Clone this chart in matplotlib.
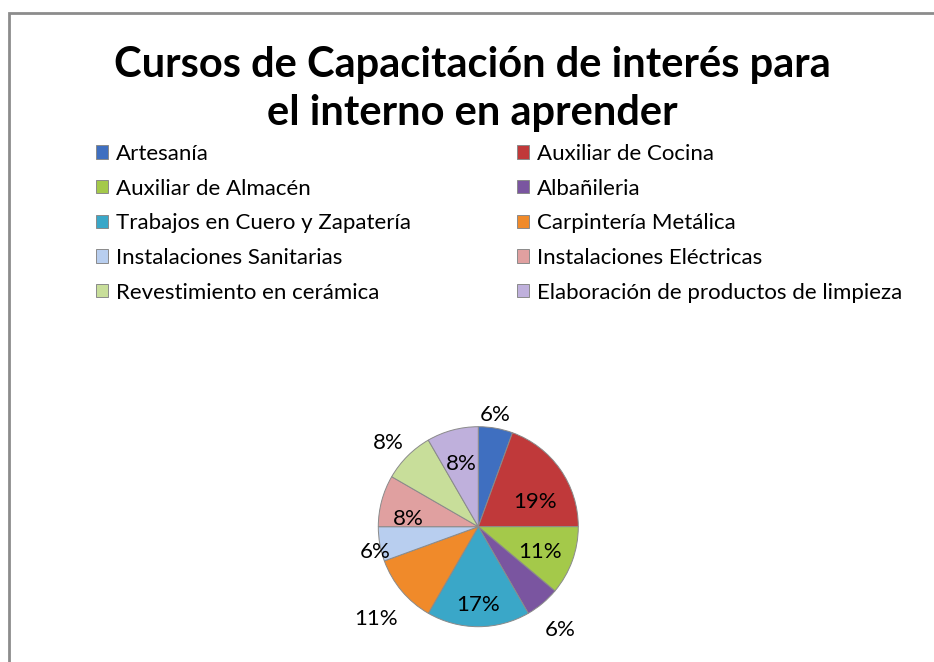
import matplotlib
matplotlib.use("Agg")
import matplotlib.pyplot as plt
from matplotlib.patches import Rectangle

# ---- data ----
categories = ["Artesanía", "Auxiliar de Cocina", "Auxiliar de Almacén", "Albañileria",
              "Trabajos en Cuero y Zapatería", "Carpintería Metálica",
              "Instalaciones Sanitarias", "Instalaciones Eléctricas",
              "Revestimiento en cerámica", "Elaboración de productos de limpieza"]
counts = [2, 7, 4, 2, 6, 4, 2, 3, 3, 3]
title = "Cursos de Capacitación de interés para\nel interno en aprender"

# ---- style ----
colors = ["#3F6FC0", "#C0393A", "#A4C94A", "#7A55A0", "#3AA7C8",
          "#F08A2A", "#B8CEEF", "#E0A0A0", "#C8DE9A", "#BFB0DC"]
# label positions in pie-radius units (dx, dy) from centre
label_pos = [(0.17, 1.12), (0.57, 0.25), (0.62, -0.25), (0.82, -1.03),
             (0.0, -0.78), (-1.02, -0.92), (-1.03, -0.25), (-0.70, 0.08),
             (-0.90, 0.84), (-0.17, 0.63)]

W, H = 934, 662
fig = plt.figure(figsize=(W / 100, H / 100), dpi=100)
fig.patch.set_facecolor("white")

# chart border (top and left visible)
fig.add_artist(Rectangle((8.5 / W, -0.1), 1.2, 1 - 12.5 / H + 0.1,
                         transform=fig.transFigure, fill=False,
                         edgecolor="#8C8C8C", linewidth=2.0))

# title
fig.text(472 / W, 1 - 89 / H, title, ha="center", va="center",
         fontsize=30, fontweight="bold", linespacing=1.3,
         family=["Lato", "DejaVu Sans"])

# pie axes: centre (478, 527) px, radius 100 px
cx, cy, R = 478.3, 526.7, 100.0
box = 3.0 * R
ax = fig.add_axes([(cx - box / 2) / W, (H - cy - box / 2) / H, box / W, box / H])
wedges, _ = ax.pie(counts, colors=colors, startangle=90, counterclock=False,
                   radius=1.0,
                   wedgeprops=dict(edgecolor="#8A8A8A", linewidth=0.7))
ax.set_xlim(-1.5, 1.5)
ax.set_ylim(-1.5, 1.5)
ax.set_aspect("equal")
ax.axis("off")

total = sum(counts)
for c, (dx, dy) in zip(counts, label_pos):
    ax.text(dx, dy, f"{round(100 * c / total)}%", ha="center", va="center",
            fontsize=16, family=["Lato", "DejaVu Sans"], color="black")

# legend in two columns (row-major order)
leg_kw = dict(loc="upper left", frameon=False,
              prop=dict(family=["Lato", "DejaVu Sans"], size=16),
              handlelength=0.55, handleheight=0.55, handletextpad=0.35,
              labelspacing=0.66, borderpad=0, borderaxespad=0)
left_idx = [0, 2, 4, 6, 8]
right_idx = [1, 3, 5, 7, 9]
leg1 = fig.legend([wedges[i] for i in left_idx], [categories[i] for i in left_idx],
                  bbox_to_anchor=(96 / W, 1 - 144 / H), **leg_kw)
leg2 = fig.legend([wedges[i] for i in right_idx], [categories[i] for i in right_idx],
                  bbox_to_anchor=(517 / W, 1 - 144 / H), **leg_kw)

fig.savefig("out.png", dpi=100, facecolor="white")
